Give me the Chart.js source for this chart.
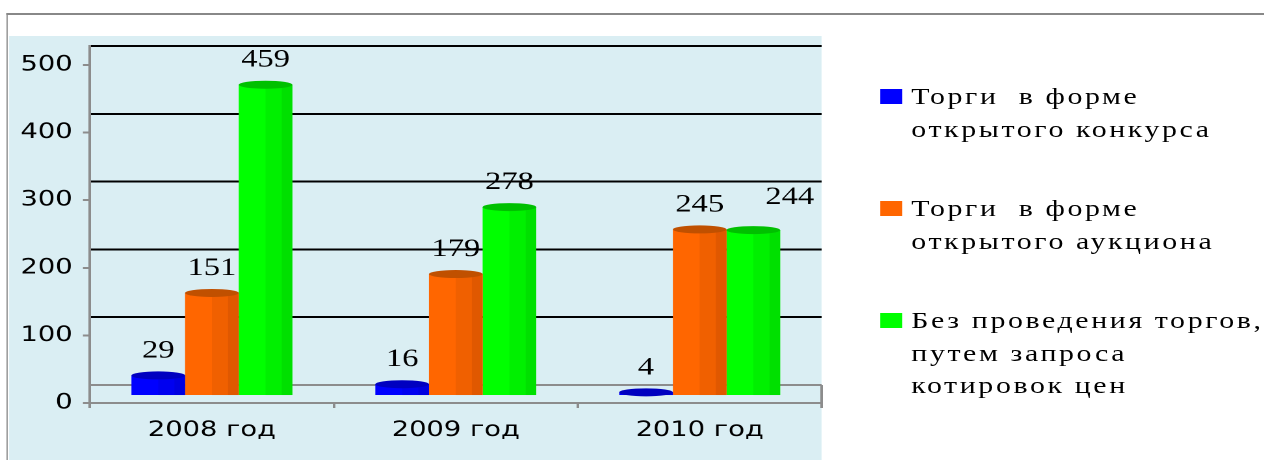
<!DOCTYPE html>
<html>
<head>
<meta charset="utf-8">
<script src="https://cdn.jsdelivr.net/npm/chart.js@4.4.1/dist/chart.umd.min.js"></script>
<style>
    html, body { margin: 0; padding: 0; background: #fff; overflow: hidden; }
    #wrap {
        position: absolute; left: 0; top: 0;
        width: 972px; height: 460px;
        transform: scaleX(1.3); transform-origin: 0 0;
    }
    #frame {
        position: absolute; left: 5.4px; top: 13px; width: 1000px; height: 500px;
        border-top: 2px solid #888; border-left: 1.6px solid #888;
    }
    #plotbg {
        position: absolute; left: 7px; top: 36px; width: 625px; height: 424px;
        background: #daeef3;
    }
    #chart { position: absolute; left: 0; top: 0; }
    #legend {
        position: absolute; left: 677px; top: 81px;
        font: 23px "Liberation Serif", "Times New Roman", serif; color: #000;
        line-height: 32.5px; letter-spacing: 2px;
    }
    .item { position: relative; padding-left: 24px; margin-bottom: 47px; white-space: pre; }
    .item .box { position: absolute; left: 0; top: 8px; width: 17px; height: 15px; }
</style>
</head>
<body>
<div id="wrap">
    <div id="frame"></div>
    <div id="plotbg"></div>
    <canvas id="chart" width="972" height="460"></canvas>
    <div id="legend"></div>
</div>
<script>
// Categories and series
const years = ['2008 год', '2009 год', '2010 год'];
const openTender = [29, 16, 4];
const openAuction = [151, 179, 245];
const noTender = [459, 278, 244];
const yTicks = [0, 100, 200, 300, 400, 500];

// Legend names, one entry per line as in the original
const seriesNames = [
    ['Торги  в форме', 'открытого конкурса'],
    ['Торги  в форме', 'открытого аукциона'],
    ['Без проведения торгов,', 'путем запроса', 'котировок цен'],
];

// front / middle / right / cap shades for the "3D" bars
const shades = [
    ['#0000ff', '#0000f0', '#0000e0', '#0000c0'],
    ['#ff6600', '#f06000', '#e05800', '#c05000'],
    ['#00ff00', '#00f000', '#00e000', '#00c000'],
];

// Bar shading and cap, drawn on top of the bars from their own geometry
const barLook = {
    id: 'barLook',
    afterDatasetsDraw(chart) {
        const ctx = chart.ctx;
        chart.data.datasets.forEach((ds, i) => {
            const s = shades[i];
            chart.getDatasetMeta(i).data.forEach(el => {
                const { x, y, base, width } = el.getProps(['x', 'y', 'base', 'width'], true);
                const left = x - width / 2;
                ctx.save();
                ctx.fillStyle = s[1];
                ctx.fillRect(left + width * 0.5, y, width * 0.3, base - y);
                ctx.fillStyle = s[2];
                ctx.fillRect(left + width * 0.8, y, width * 0.2, base - y);
                ctx.fillStyle = s[3];
                ctx.beginPath();
                ctx.ellipse(x, y, width / 2, 4, 0, 0, Math.PI * 2);
                ctx.fill();
                ctx.restore();
            });
        });
    }
};

// Value labels above each bar; the last one sits a bit to the right, like the original
const valueLabels = {
    id: 'valueLabels',
    afterDatasetsDraw(chart) {
        const ctx = chart.ctx;
        ctx.save();
        ctx.font = '25px "Liberation Serif", "Times New Roman", serif';
        ctx.fillStyle = '#000';
        ctx.textAlign = 'center';
        ctx.textBaseline = 'alphabetic';
        chart.data.datasets.forEach((ds, i) => {
            const meta = chart.getDatasetMeta(i);
            meta.data.forEach((el, j) => {
                let dx = 0, dy = 18;
                if (i === 2 && j === meta.data.length - 1) { dx = 28; dy = 26; }
                ctx.fillText(String(ds.data[j]), el.x + dx, el.y - dy);
            });
        });
        ctx.restore();
    }
};

// right edge of the floor box
const floorEdge = {
    id: 'floorEdge',
    beforeDatasetsDraw(chart) {
        const ctx = chart.ctx;
        const area = chart.chartArea;
        const top = chart.scales.y2.getPixelForValue(0);
        ctx.save();
        ctx.strokeStyle = '#8c8c8c';
        ctx.lineWidth = 2;
        ctx.beginPath();
        ctx.moveTo(area.right, top);
        ctx.lineTo(area.right, area.bottom + 4);
        ctx.stroke();
        ctx.restore();
    }
};

const datasets = [openTender, openAuction, noTender].map((values, i) => ({
    label: seriesNames[i].join(' '),
    data: values,
    backgroundColor: shades[i][0],
    borderWidth: 0,
    yAxisID: 'yb',
    barPercentage: 1,
    categoryPercentage: 0.66,
}));

const ctxChart = document.getElementById('chart').getContext('2d');
const chart = new Chart(ctxChart, {
    type: 'bar',
    data: { labels: years, datasets: datasets },
    options: {
        responsive: false,
        devicePixelRatio: 2,
        animation: false,
        layout: { padding: { top: 46, right: 340, bottom: 0, left: 0 } },
        plugins: {
            legend: { display: false },
            tooltip: { enabled: false },
        },
        scales: {
            x: {
                grid: { display: true, drawOnChartArea: false, tickLength: 5, color: '#8c8c8c', lineWidth: 2, offset: true },
                border: { display: true, color: '#8c8c8c', width: 2 },
                ticks: { color: '#000', padding: 10, font: { family: '"DejaVu Sans", Verdana, sans-serif', size: 21 } },
                afterFit(scale) { scale.height = 57; },
            },
            y: {
                position: 'left',
                min: 0,
                max: 528.1,
                afterBuildTicks(scale) { scale.ticks = yTicks.map(v => ({ value: v })); },
                grid: { display: true, drawOnChartArea: false, tickLength: 5.4, color: '#8c8c8c', lineWidth: 2 },
                border: { display: true, color: '#8c8c8c', width: 2 },
                ticks: { color: '#000', padding: 8, font: { family: '"DejaVu Sans", Verdana, sans-serif', size: 21 } },
                afterFit(scale) { scale.width = 69.2; },
            },
            // back wall grid, shifted up by the 3D depth
            y2: {
                position: 'right',
                min: -26.5,
                max: 500,
                afterBuildTicks(scale) { scale.ticks = yTicks.map(v => ({ value: v })); },
                grid: {
                    drawTicks: false,
                    lineWidth: 2,
                    color: c => (c.tick && c.tick.value === 0 ? '#8c8c8c' : '#000'),
                },
                border: { display: false },
                ticks: { display: false },
                afterFit(scale) { scale.width = 0; },
            },
            // bars stand on the floor, slightly in front of the wall
            yb: {
                display: false,
                min: -11.8,
                max: 516.3,
            },
        },
    },
    plugins: [floorEdge, barLook, valueLabels],
});

// HTML legend
const legendEl = document.getElementById('legend');
chart.data.datasets.forEach((ds, i) => {
    const item = document.createElement('div');
    item.className = 'item';
    const box = document.createElement('span');
    box.className = 'box';
    box.style.background = shades[i][0];
    item.appendChild(box);
    item.appendChild(document.createTextNode(seriesNames[i].join('\n')));
    legendEl.appendChild(item);
});
</script>
</body>
</html>
